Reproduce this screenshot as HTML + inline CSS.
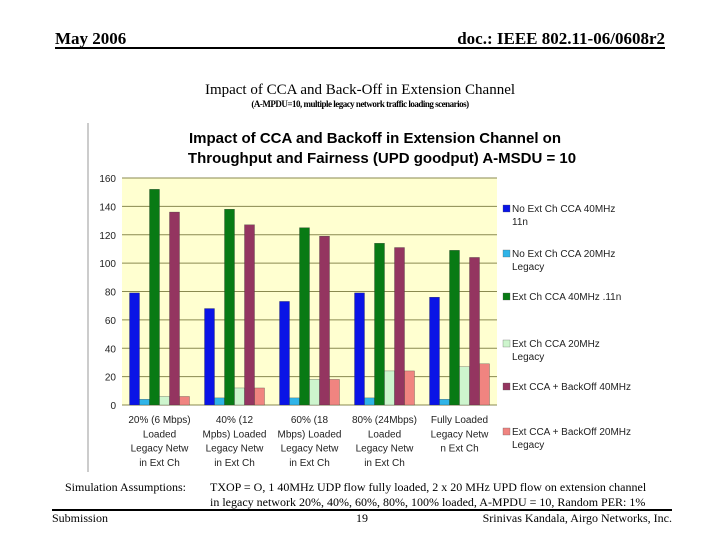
<!DOCTYPE html>
<html><head><meta charset="utf-8"><style>
body{margin:0;width:720px;height:540px;background:#fff;position:relative;overflow:hidden;font-family:"Liberation Serif",serif;}
.t{position:absolute;white-space:nowrap;}
</style></head><body>
<div class="t" style="left:55px;top:29px;font-size:17px;font-weight:bold;">May 2006</div>
<div class="t" style="right:55px;top:29px;font-size:17px;font-weight:bold;">doc.: IEEE 802.11-06/0608r2</div>
<div style="position:absolute;left:55px;top:47px;width:610px;height:2px;background:#000"></div>
<div class="t" style="left:0;width:720px;text-align:center;top:82px;font-size:15px;">Impact of CCA and Back-Off in Extension Channel</div>
<div class="t" style="left:0;width:720px;text-align:center;top:99px;font-size:9px;font-weight:bold;letter-spacing:-0.5px;">(A-MPDU=10, multiple legacy network traffic loading scenarios)</div>
<svg id="chart" width="720" height="540" style="position:absolute;left:0;top:0" font-family="Liberation Sans, sans-serif"></svg>
<div class="t" style="left:65px;top:480px;font-size:12px;">Simulation Assumptions:</div>
<div class="t" style="left:210px;top:480px;font-size:12px;line-height:15px;">TXOP = O, 1 40MHz UDP flow fully loaded, 2 x 20 MHz UPD flow on extension channel<br>in legacy network 20%, 40%, 60%, 80%, 100% loaded, A-MPDU = 10, Random PER: 1%</div>
<div style="position:absolute;left:52px;top:509px;width:620px;height:2px;background:#000"></div>
<div class="t" style="left:52px;top:511px;font-size:12px;">Submission</div>
<div class="t" style="left:356px;top:511px;font-size:12px;">19</div>
<div class="t" style="right:48px;top:511px;font-size:12px;">Srinivas Kandala, Airgo Networks, Inc.</div>
<script>
const categories=[["20% (6 Mbps)","Loaded","Legacy Netw","in Ext Ch"],["40% (12","Mpbs) Loaded","Legacy Netw","in Ext Ch"],["60% (18","Mbps) Loaded","Legacy Netw","in Ext Ch"],["80% (24Mbps)","Loaded","Legacy Netw","in Ext Ch"],["Fully Loaded","Legacy Netw","n Ext Ch"]];
const noExt40=[79,68,73,79,76];
const noExt20=[4,5,5,5,4];
const ext40=[152,138,125,114,109];
const ext20=[6,12,18,24,27];
const bo40=[136,127,119,111,104];
const bo20=[6,12,18,24,29];
const yTicks=[0,20,40,60,80,100,120,140,160];
const seriesNames=[["No Ext Ch CCA 40MHz","11n"],["No Ext Ch CCA 20MHz","Legacy"],["Ext Ch CCA 40MHz .11n"],["Ext Ch CCA 20MHz","Legacy"],["Ext CCA + BackOff 40MHz"],["Ext CCA + BackOff 20MHz","Legacy"]];
const series=[noExt40,noExt20,ext40,ext20,bo40,bo20];
const colors=["#0a14e6","#2fb4e8","#087a14","#cdf5cd","#943560","#f08480"];
const svg=document.getElementById('chart');const NS="http://www.w3.org/2000/svg";
function mk(tag,attrs,txt){const e=document.createElementNS(NS,tag);for(const k in attrs)e.setAttribute(k,attrs[k]);if(txt!==undefined)e.textContent=txt;svg.appendChild(e);return e;}
const X0=122,X1=497,Y0=405,Y1=178,yMax=160;
const y=v=>Y0-(v/yMax)*(Y0-Y1);
const gw=(X1-X0)/categories.length;
const bw=10;
let e;
e=mk('line',{x1:88,y1:123,x2:88,y2:472,stroke:'#999'});


e=mk('text',{x:375,y:143,'text-anchor':'middle','font-size':15,'font-weight':'bold'},'Impact of CCA and Backoff in Extension Channel on');


e=mk('text',{x:382,y:163,'text-anchor':'middle','font-size':15,'font-weight':'bold'},'Throughput and Fairness (UPD goodput) A-MSDU = 10');


e=mk('rect',{x:X0,y:Y1,width:X1-X0,height:Y0-Y1,fill:'#ffffd0'});


yTicks.forEach(t=>{
 e=mk('line',{x1:X0,x2:X1,y1:y(t),y2:y(t),stroke:'#8a8a50','stroke-width':1});
 
 
 e=mk('text',{x:116,y:y(t)+4,'text-anchor':'end','font-size':10,fill:'#222'},String(t));
 
 
});
categories.forEach((lines,i)=>{
 const gx=X0+i*gw+(gw-bw*series.length)/2;
 series.forEach((s,j)=>{
  e=mk('rect',{x:gx+j*bw,y:y(s[i]),width:bw,height:Y0-y(s[i]),fill:colors[j],stroke:'#333','stroke-width':0.3});
  
  
 });
 lines.forEach((l,k)=>{
  e=mk('text',{x:X0+i*gw+gw/2,y:423+k*14.3,'text-anchor':'middle','font-size':10,fill:'#222'},l);
  
  
 });
});
seriesNames.forEach((n,j)=>{
 const ly=[212,257,300,347,390,435][j];
 e=mk('rect',{x:503,y:ly-7,width:7,height:7,fill:colors[j],stroke:'#555','stroke-width':0.3});
 
 
 n.forEach((l,k)=>{
  e=mk('text',{x:k?512:512,y:ly+k*13,'font-size':10,fill:'#222'},l);
  
  
 });
});
</script>
</body></html>
